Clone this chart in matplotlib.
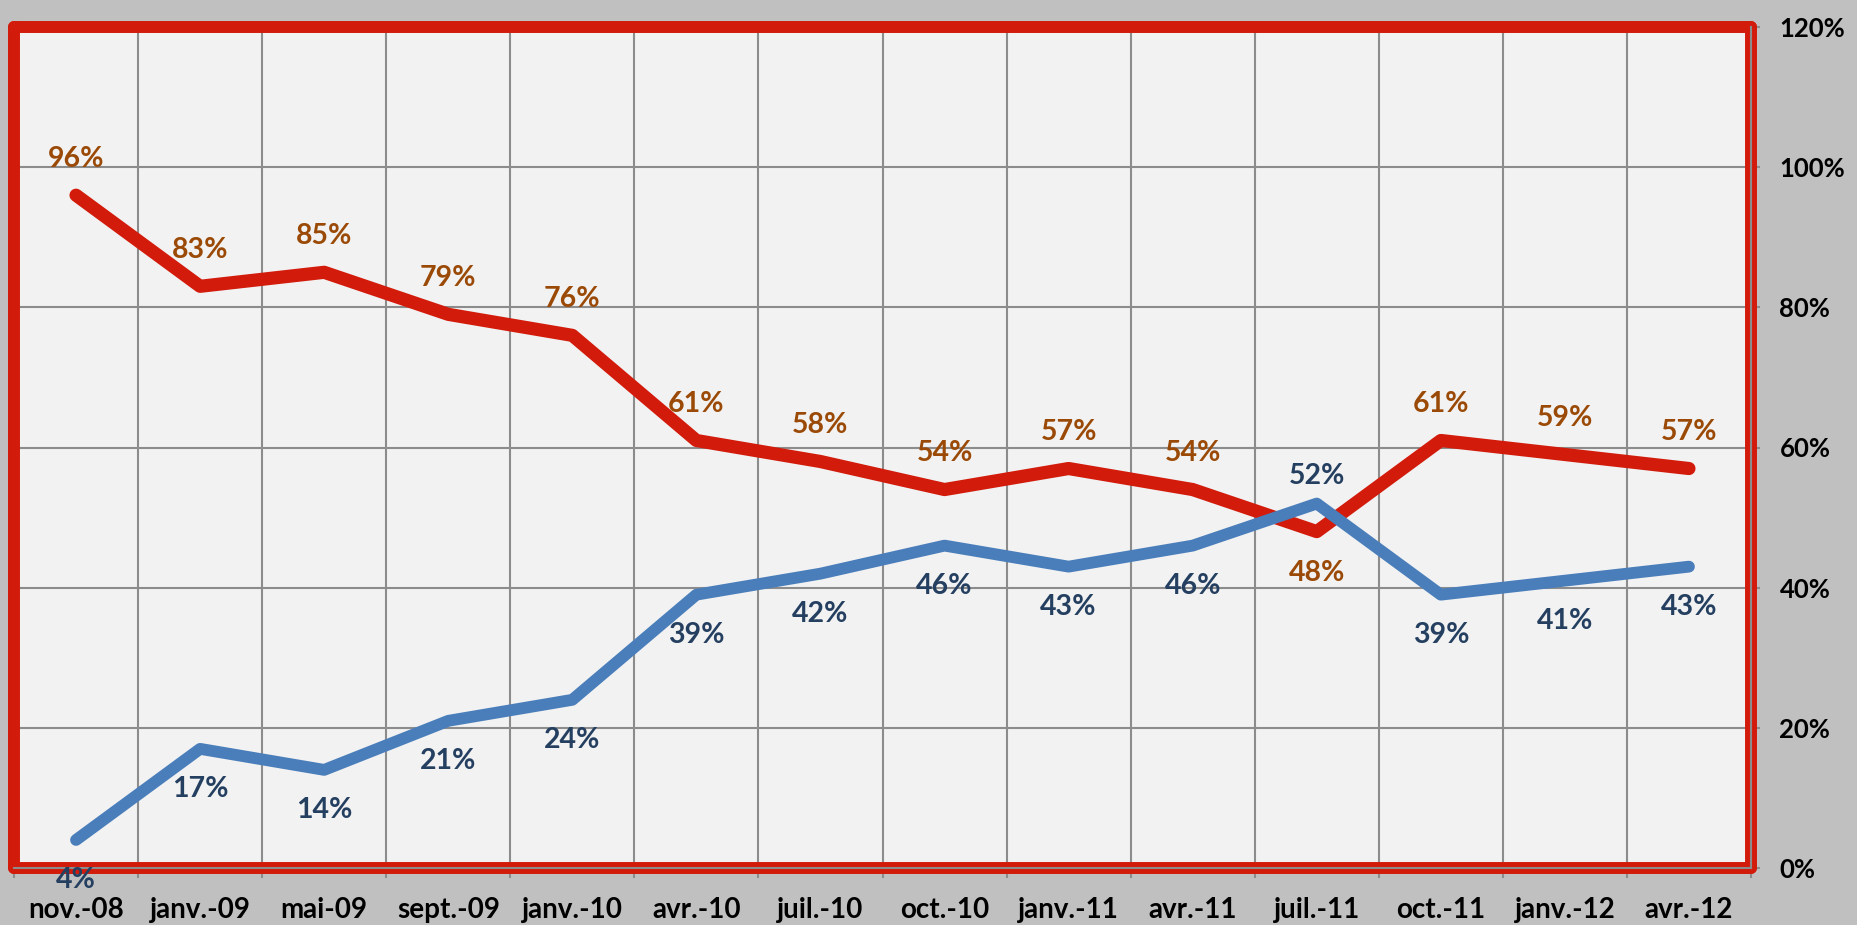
import matplotlib.pyplot as plt
from matplotlib.ticker import FixedLocator, PercentFormatter

plt.rcParams['font.family'] = ['Lato', 'DejaVu Sans']
plt.rcParams['font.weight'] = 'bold'

# data
months = ['nov.-08', 'janv.-09', 'mai-09', 'sept.-09', 'janv.-10', 'avr.-10', 'juil.-10',
          'oct.-10', 'janv.-11', 'avr.-11', 'juil.-11', 'oct.-11', 'janv.-12', 'avr.-12']
red_vals = [96, 83, 85, 79, 76, 61, 58, 54, 57, 54, 48, 61, 59, 57]
blue_vals = [4, 17, 14, 21, 24, 39, 42, 46, 43, 46, 52, 39, 41, 43]

red = '#d21b0b'
brown = '#9a4a06'
blue = '#4a7ebb'
navy = '#243f60'
grid_col = '#8c8c8c'

fig = plt.figure(figsize=(18.57, 9.25), dpi=100, facecolor='#c0c0c0')
ax = fig.add_axes([14/1857, 1 - 868/925, (1751 - 14)/1857, (868 - 27)/925])
ax.set_facecolor('#f2f2f2')

x = list(range(len(months)))
ax.plot(x, red_vals, color=red, lw=9.5, solid_capstyle='round', solid_joinstyle='round', zorder=3)
ax.plot(x, blue_vals, color=blue, lw=8.5, solid_capstyle='round', solid_joinstyle='round', zorder=3)

# data labels
for i, v in enumerate(red_vals):
    off = -30 if i == 10 else 26
    ax.annotate('%d%%' % v, (i, v), xytext=(0, off), textcoords='offset points',
                ha='center', va='center', color=brown, fontsize=20.5, fontweight='bold',
                annotation_clip=False, zorder=4)
for i, v in enumerate(blue_vals):
    off = 20 if i == 10 else -29
    ax.annotate('%d%%' % v, (i, v), xytext=(0, off), textcoords='offset points',
                ha='center', va='center', color=navy, fontsize=20.5, fontweight='bold',
                annotation_clip=False, zorder=4)

ax.set_xlim(-0.5, len(months) - 0.5)
ax.set_ylim(0, 120)

ax.set_xticks(x)
ax.set_xticklabels(months)
ax.xaxis.set_minor_locator(FixedLocator([i - 0.5 for i in range(len(months) + 1)]))
ax.tick_params(axis='x', which='major', length=0, pad=21, labelsize=20, labelcolor='black')
ax.tick_params(axis='x', which='minor', length=7.2, width=1.5, color=grid_col, direction='out')
for lab in ax.get_xticklabels():
    lab.set_fontweight('bold')

ax.yaxis.tick_right()
ax.set_yticks(range(0, 121, 20))
ax.yaxis.set_major_formatter(PercentFormatter(decimals=0))
ax.tick_params(axis='y', which='major', length=6.5, width=1.5, color=grid_col,
               pad=14, labelsize=18.5, labelcolor='black')
for lab in ax.get_yticklabels():
    lab.set_fontweight('bold')

ax.grid(True, axis='x', which='minor', color=grid_col, lw=1.5)
ax.grid(True, axis='y', which='major', color=grid_col, lw=1.5)
ax.set_axisbelow(True)

for s in ax.spines.values():
    s.set_color(red)
    s.set_linewidth(8.6)
    s.set_zorder(2.6)
    s.set_capstyle('round')

ax.axhline(0, color=grid_col, lw=1.5, zorder=2.7, clip_on=False)
ax.axvline(len(months) - 0.5, color=grid_col, lw=1.5, zorder=2.7, clip_on=False)

fig.savefig('out.png', dpi=100, facecolor=fig.get_facecolor())
